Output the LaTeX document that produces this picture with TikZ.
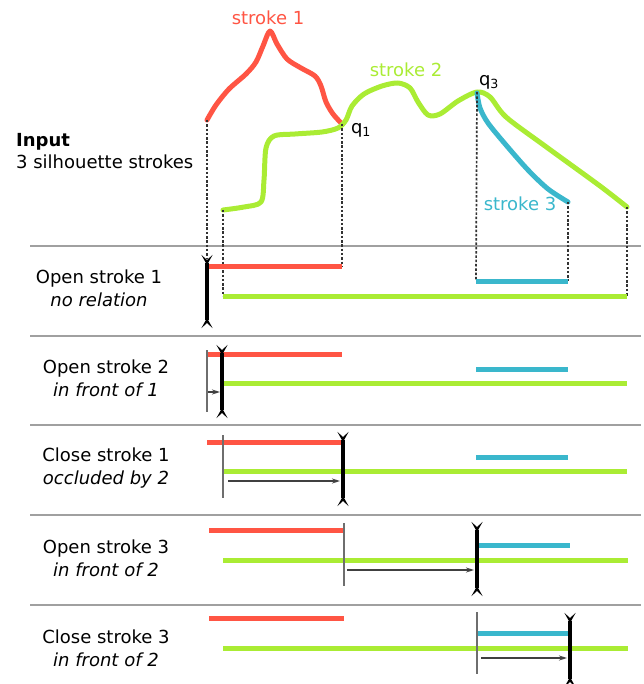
\documentclass[tikz,border=0pt]{standalone}
\usepackage{fontspec}
\setmainfont{DejaVu Sans}
\usetikzlibrary{arrows.meta}
\definecolor{sred}{RGB}{255,85,68}
\definecolor{sgreen}{RGB}{170,236,52}
\definecolor{sblue}{RGB}{58,183,204}
\definecolor{sepgray}{RGB}{160,160,160}
\definecolor{vgray}{RGB}{110,110,110}
\definecolor{agray}{RGB}{64,64,64}
\tikzset{
  curve/.style={line width=5pt, line cap=round, line join=round},
  bar/.style={line width=5pt},
  guide/.style={dash pattern=on 2.5pt off 1.8pt, line width=1.7pt, black!80},
  sep/.style={line width=1.4pt, sepgray},
  sweepline/.style={line width=4pt, black,
    {Stealth[reversed,length=10pt,width=11pt,inset=5pt]}-{Stealth[reversed,length=10pt,width=11pt,inset=5pt]}},
  oldsweep/.style={line width=2.5pt, vgray},
  advance/.style={line width=1.5pt, agray, -{Stealth[length=8pt,width=5pt]}},
  lbl/.style={font=\fontsize{18}{22}\selectfont, inner sep=0pt},
  rowlbl/.style={font=\fontsize{18}{23}\selectfont, align=center, inner sep=0pt}
}
\begin{document}
\begin{tikzpicture}[x=1pt,y=-1pt]
\useasboundingbox (0,0) rectangle (643,684);

% ---------- input strokes ----------
\coordinate (s1a) at (207,120);
\coordinate (q1) at (342,124);
\coordinate (s2a) at (223,210);
\coordinate (q3) at (477,92);
\coordinate (s2b) at (627,207);
\coordinate (s3b) at (568,202);

\draw[curve, sred] plot[smooth, tension=0.5] coordinates {
  (207,120) (216,105) (229,89) (246,74) (256,62) (263,46) (270,31) (277,44) (287,59) (301,68) (315,76) (321,86) (326,102) (333,114) (342,124)};
\draw[curve, sgreen] plot[smooth, tension=0.5] coordinates {
  (223,210) (244,207) (261,202) (264,180) (266,148) (274,136) (295,134) (322,132) (338,128) (346,120) (352,106) (364,94) (382,86) (398,83) (410,88) (418,102) (428,115) (440,114) (458,101) (477,92) (490,97) (506,117) (545,146) (600,186) (627,207)};
\draw[curve, sblue] plot[smooth, tension=0.5] coordinates {
  (477,93) (480,108) (488,123) (506,145) (528,170) (548,189) (568,202)};

\node[lbl, text=sred] (t1) at (268,18) {stroke 1};
\node[lbl, text=sgreen] (t2) at (406,70) {stroke 2};
\node[lbl, text=sblue] (t3) at (520,204) {stroke 3};
\node[lbl] (lq1) at (361,130) {q\textsubscript{1}};
\node[lbl] (lq3) at (489,82) {q\textsubscript{3}};

\node[lbl, anchor=west, align=left] (inp) at (16,151) {\textbf{Input}\\3 silhouette strokes};

% ---------- separators ----------
\foreach \y/\n in {246/a,336/b,425/c,515/d,605/e}
  \draw[sep] (30,\y) coordinate (sep\n l) -- (641,\y) coordinate (sep\n r);

% ---------- row 1 ----------
\coordinate (r1a) at (207,266); \coordinate (r1b) at (342,266);
\coordinate (g1a) at (223,296); \coordinate (g1b) at (627,296);
\coordinate (b1a) at (476,281); \coordinate (b1b) at (568,281);
\draw[guide] (s1a) -- (207,258);
\draw[guide] (s2a) -- (g1a);
\draw[guide] (q1) -- (r1b);
\draw[guide] (q3) -- (b1a);
\draw[guide] (s3b) -- (b1b);
\draw[guide] (s2b) -- (g1b);
\draw[bar, sred] (r1a) -- (r1b);
\draw[bar, sgreen] (g1a) -- (g1b);
\draw[bar, sblue] (b1a) -- (b1b);
\draw[sweepline] (207,255) coordinate (w1a) -- (207,328) coordinate (w1b);
\node[rowlbl] (l1) at (99,288) {Open stroke 1\\\textit{no relation}};

% ---------- row 2 ----------
\draw[bar, sred] (207,354) coordinate (r2a) -- (342,354) coordinate (r2b);
\draw[bar, sgreen] (223,383) coordinate (g2a) -- (627,383) coordinate (g2b);
\draw[bar, sblue] (476,369) coordinate (b2a) -- (568,369) coordinate (b2b);
\draw[oldsweep] (207,350) coordinate (o2a) -- (207,412) coordinate (o2b);
\draw[sweepline] (222,345) coordinate (w2a) -- (222,418) coordinate (w2b);
\coordinate (a2s) at (208,392); \coordinate (a2e) at (220,392);
\draw[advance] (a2s) -- (a2e);
\node[rowlbl] (l2) at (106,378) {Open stroke 2\\\textit{in front of 1}};

% ---------- row 3 ----------
\draw[bar, sred] (207,442) coordinate (r3a) -- (343,442) coordinate (r3b);
\draw[bar, sgreen] (223,471) coordinate (g3a) -- (627,471) coordinate (g3b);
\draw[bar, sblue] (476,457) coordinate (b3a) -- (568,457) coordinate (b3b);
\draw[oldsweep] (223,435) coordinate (o3a) -- (223,498) coordinate (o3b);
\draw[sweepline] (343,432) coordinate (w3a) -- (343,506) coordinate (w3b);
\coordinate (a3s) at (228,481); \coordinate (a3e) at (340,481);
\draw[advance] (a3s) -- (a3e);
\node[rowlbl] (l3) at (106,468) {Close stroke 1\\\textit{occluded by 2}};

% ---------- row 4 ----------
\draw[bar, sred] (209,530) coordinate (r4a) -- (344,530) coordinate (r4b);
\draw[bar, sgreen] (223,560) coordinate (g4a) -- (628,560) coordinate (g4b);
\draw[bar, sblue] (478,545) coordinate (b4a) -- (570,545) coordinate (b4b);
\draw[oldsweep] (344,523) coordinate (o4a) -- (344,586) coordinate (o4b);
\draw[sweepline] (477,522) coordinate (w4a) -- (477,596) coordinate (w4b);
\coordinate (a4s) at (347,570); \coordinate (a4e) at (474,570);
\draw[advance] (a4s) -- (a4e);
\node[rowlbl] (l4) at (106,558) {Open stroke 3\\\textit{in front of 2}};

% ---------- row 5 ----------
\draw[bar, sred] (209,618) coordinate (r5a) -- (344,618) coordinate (r5b);
\draw[bar, sgreen] (223,648) coordinate (g5a) -- (628,648) coordinate (g5b);
\draw[bar, sblue] (477,633) coordinate (b5a) -- (570,633) coordinate (b5b);
\draw[oldsweep] (477,612) coordinate (o5a) -- (477,674) coordinate (o5b);
\draw[sweepline] (570,613) coordinate (w5a) -- (570,687) coordinate (w5b);
\coordinate (a5s) at (481,658); \coordinate (a5e) at (567,658);
\draw[advance] (a5s) -- (a5e);
\node[rowlbl] (l5) at (106,648) {Close stroke 3\\\textit{in front of 2}};

\end{tikzpicture}
\end{document}
